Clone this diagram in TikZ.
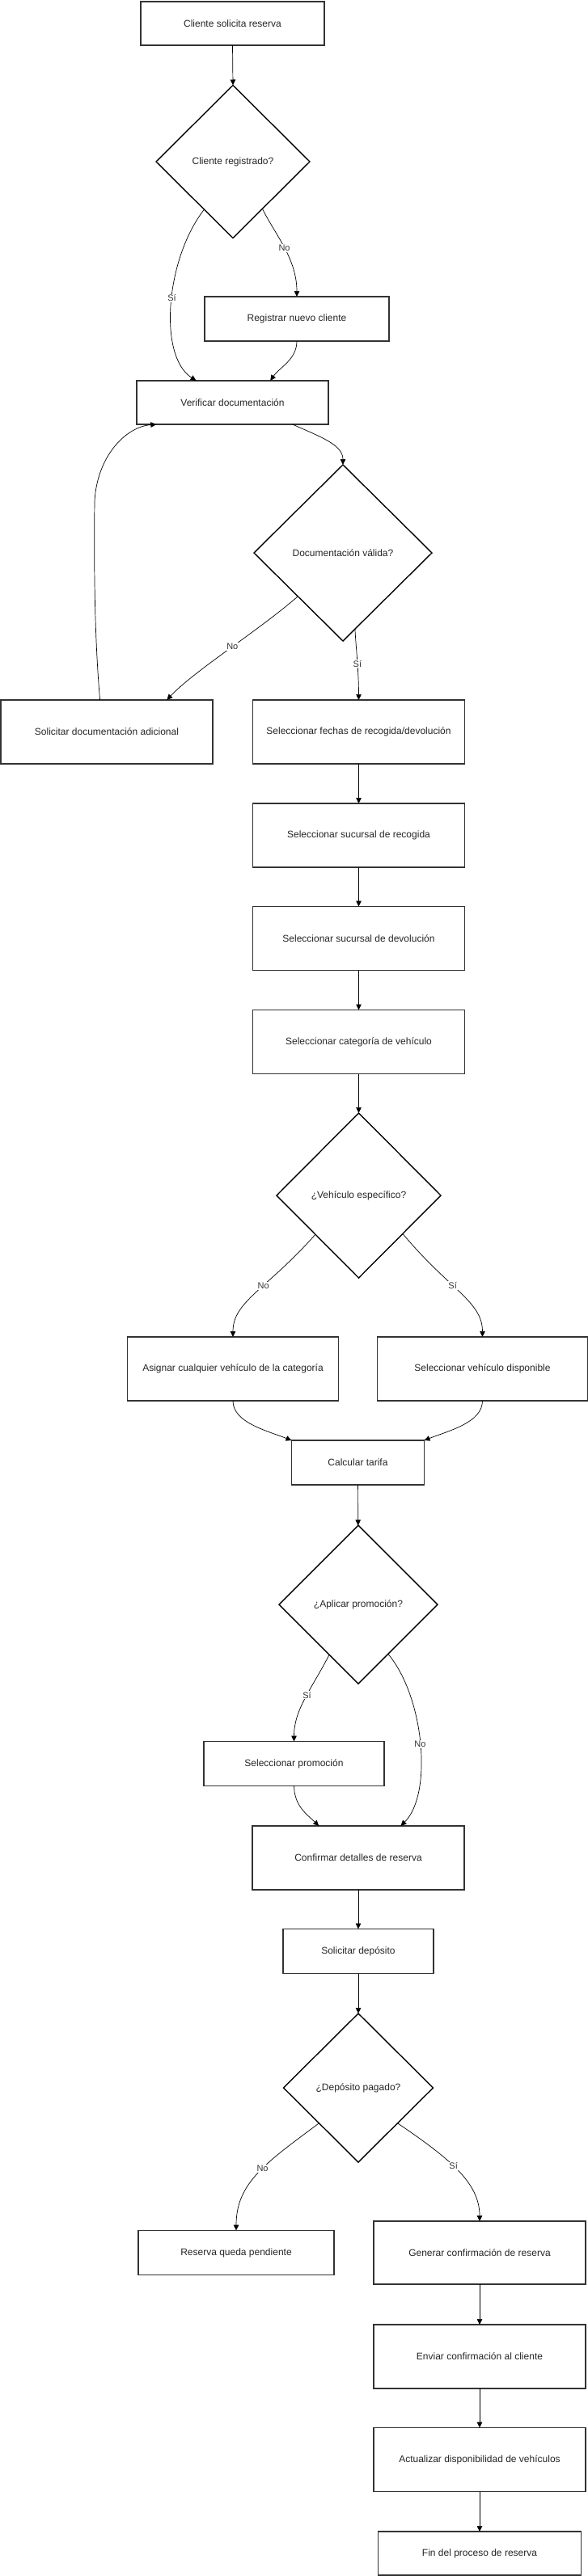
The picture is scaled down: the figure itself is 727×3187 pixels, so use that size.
\documentclass[tikz,border=0pt]{standalone}
\usepackage{fontspec}
\setmainfont{Liberation Sans}
\usetikzlibrary{shapes.geometric,arrows.meta}
\begin{document}
\begin{tikzpicture}[x=1pt,y=-1pt,
  box/.style={draw=black!80, line width=1.4pt, rectangle, inner sep=0pt, outer sep=0pt,
    font=\fontsize{12}{14}\selectfont, text=black!85},
  dec/.style={draw=black, line width=1.4pt, diamond, inner sep=0pt, outer sep=0pt,
    font=\fontsize{12}{14}\selectfont, text=black!85},
  arr/.style={draw=black, line width=0.7pt, -{Triangle[length=7pt,width=6.5pt]}},
  lbl/.style={fill=white, inner sep=1pt, font=\fontsize{11}{13}\selectfont, text=black!80}
]
\useasboundingbox[fill=white] (0,0) rectangle (727,3187);

% nodes
\node[box, minimum width=227pt, minimum height=54pt] (n1) at (287.5,29) {Cliente solicita reserva};
\node[dec, minimum width=190pt, minimum height=189pt] (d1) at (288,200) {Cliente registrado?};
\node[box, minimum width=228pt, minimum height=55pt] (reg) at (367,394.5) {Registrar nuevo cliente};
\node[box, minimum width=237pt, minimum height=54pt] (verif) at (287.5,498) {Verificar documentación};
\node[dec, minimum width=220pt, minimum height=218pt] (d2) at (424,684) {Documentación válida?};
\node[box, minimum width=262pt, minimum height=79pt] (soldoc) at (132,905.5) {Solicitar documentación adicional};
\node[box, minimum width=262pt, minimum height=79pt] (fechas) at (443.5,905.5) {Seleccionar fechas de recogida/devolución};
\node[box, minimum width=262pt, minimum height=79pt] (recog) at (443.5,1033.5) {Seleccionar sucursal de recogida};
\node[box, minimum width=262pt, minimum height=79pt] (devol) at (443.5,1161) {Seleccionar sucursal de devolución};
\node[box, minimum width=262pt, minimum height=79pt] (categ) at (443.5,1289) {Seleccionar categoría de vehículo};
\node[dec, minimum width=203pt, minimum height=204pt] (d3) at (443.5,1479) {¿Vehículo específico?};
\node[box, minimum width=261pt, minimum height=79pt] (asig) at (288,1693.5) {Asignar cualquier vehículo de la categoría};
\node[box, minimum width=260pt, minimum height=79pt] (selv) at (596.5,1693.5) {Seleccionar vehículo disponible};
\node[box, minimum width=164pt, minimum height=55pt] (calc) at (442.5,1809.5) {Calcular tarifa};
\node[dec, minimum width=196pt, minimum height=196pt] (d4) at (443,1985) {¿Aplicar promoción?};
\node[box, minimum width=223pt, minimum height=55pt] (promo) at (363.5,2182) {Seleccionar promoción};
\node[box, minimum width=262pt, minimum height=79pt] (conf) at (443,2298.5) {Confirmar detalles de reserva};
\node[box, minimum width=186pt, minimum height=55pt] (dep) at (443,2414) {Solicitar depósito};
\node[dec, minimum width=185pt, minimum height=184pt] (d5) at (443,2583) {¿Depósito pagado?};
\node[box, minimum width=242pt, minimum height=55pt] (res) at (292,2787) {Reserva queda pendiente};
\node[box, minimum width=262pt, minimum height=78pt] (gen) at (593,2787) {Generar confirmación de reserva};
\node[box, minimum width=262pt, minimum height=79pt] (env) at (593,2915.5) {Enviar confirmación al cliente};
\node[box, minimum width=262pt, minimum height=79pt] (act) at (593,3043) {Actualizar disponibilidad de vehículos};
\node[box, minimum width=251pt, minimum height=54pt] (fin) at (593,3159) {Fin del proceso de reserva};

% connectors
\draw[arr] (n1.south) -- (d1.north);
\draw[arr] (d1.-121) .. controls (205,320) and (195,440) .. (verif.149.3) node[lbl,pos=0.47]{Sí};
\draw[arr] (d1.-58) .. controls (340,290) and (367,320) .. (reg.north) node[lbl,pos=0.5]{No};
\draw[arr] (reg.south) .. controls (367,445) and (345,455) .. (verif.30.7);
\draw[arr] (verif.-20.2) .. controls (395,540) and (424,550) .. (d2.north);
\draw[arr] (soldoc.102.1) .. controls (117,790) and (116,700) .. (117,620) .. controls (120,565) and (155,528) .. (verif.-164.4);
\draw[arr] (d2.-136.5) .. controls (320,780) and (240,830) .. (soldoc.28.4) node[lbl,pos=0.47]{No};
\draw[arr] (d2.-81.5) .. controls (440,800) and (443.5,830) .. (fechas.north) node[lbl,pos=0.55]{Sí};
\draw[arr] (fechas) -- (recog);
\draw[arr] (recog) -- (devol);
\draw[arr] (devol) -- (categ);
\draw[arr] (categ) -- (d3);
\draw[arr] (d3.-138.5) .. controls (330,1595) and (288,1610) .. (asig.north) node[lbl,pos=0.42]{No};
\draw[arr] (d3.-41.5) .. controls (555,1595) and (596.5,1610) .. (selv.north) node[lbl,pos=0.42]{Sí};
\draw[arr] (asig.south) .. controls (288,1760) and (330,1770) .. (calc.north west);
\draw[arr] (selv.south) .. controls (596.5,1760) and (555,1770) .. (calc.north east);
\draw[arr] (calc) -- (d4);
\draw[arr] (d4.-120.4) .. controls (385,2090) and (363.5,2115) .. (promo.north) node[lbl,pos=0.45]{Sí};
\draw[arr] (d4.-59.6) .. controls (525,2100) and (535,2220) .. (conf.37.8) node[lbl,pos=0.5]{No};
\draw[arr] (promo.south) .. controls (364,2235) and (380,2245) .. (conf.141.7);
\draw[arr] (conf) -- (dep);
\draw[arr] (dep) -- (d5);
\draw[arr] (d5.-138.6) .. controls (330,2675) and (292,2700) .. (res.north) node[lbl,pos=0.45]{No};
\draw[arr] (d5.-42) .. controls (555,2670) and (593,2700) .. (gen.north) node[lbl,pos=0.45]{Sí};
\draw[arr] (gen) -- (env);
\draw[arr] (env) -- (act);
\draw[arr] (act) -- (fin);
\end{tikzpicture}
\end{document}
